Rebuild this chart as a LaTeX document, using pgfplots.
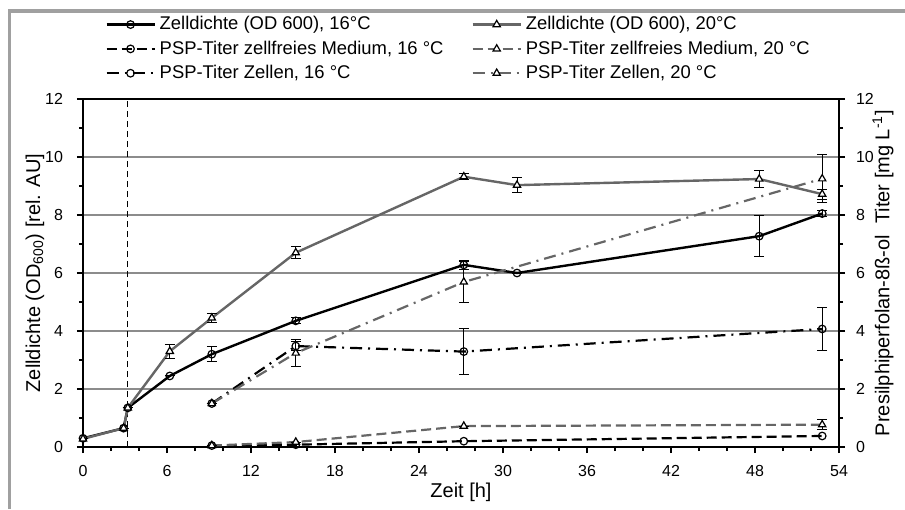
\documentclass[border=0pt]{standalone}
\usepackage{fontspec}
\setmainfont{Liberation Sans}
\usepackage{pgfplots}
\pgfplotsset{compat=1.18}

\definecolor{sergray}{HTML}{666666}
\definecolor{gridgray}{HTML}{8C8C8C}
\definecolor{framegray}{HTML}{A0A0A0}

\newcommand{\chartfont}{\fontsize{8}{9.6}\selectfont}
\newcommand{\legfont}{\fontsize{9.2}{11}\selectfont}

\pgfplotsset{
  base/.style={
    at={(41.5pt,31pt)}, anchor=south west,
    width=378pt, height=174pt, scale only axis,
    xmin=0, xmax=54, ymin=0, ymax=12,
    ytick={0,2,...,12}, minor y tick num=1,
    tick align=outside,
    major tick length=3pt, minor tick length=2pt,
    axis line style={black, line width=0.7pt},
    tick style={black, line width=0.6pt},
    /pgf/number format/assume math mode=true,
    tick label style={font=\chartfont},
    label style={font=\chartfont},
  },
  ebar/.style={error bars/.cd, y dir=both, y explicit,
    error bar style={black, line width=0.5pt, solid},
    error mark options={rotate=90, mark size=2.5pt, black, line width=0.5pt, solid}},
  circ/.style={mark=o, mark size=1.9pt, mark options={solid, draw=black, fill=white, line width=0.6pt}},
  tri/.style={mark=triangle*, mark size=2.1pt, mark options={solid, draw=black, fill=white, line width=0.6pt}},
  dashdot/.style={dash pattern=on 6pt off 3pt on 1pt off 3pt},
  longdash/.style={dash pattern=on 5pt off 2.5pt},
}

\begin{document}
\begin{tikzpicture}
\useasboundingbox (0,0) rectangle (452.5pt,254.5pt);
\draw[framegray, line width=1.8pt] (4.75pt,0) -- (4.75pt,249pt) -- (452.5pt,249pt);

\begin{axis}[base,
  xtick={0,6,...,54}, minor x tick num=2,
  tick pos=left,
  xticklabel style={yshift=-2.5pt},
  yticklabel style={xshift=-3.5pt},
  ymajorgrids, major grid style={gridgray, line width=0.7pt},
  xlabel={Zeit [h]},
  ylabel={Zelldichte (OD\textsubscript{600}) [rel. AU]},
  every axis x label/.style={at={(axis description cs:0.5,0)}, yshift=-22.5pt, anchor=center},
  every axis y label/.style={at={(axis description cs:0,0.5)}, xshift=-24pt, rotate=90, anchor=center},
  legend columns=2,
  legend style={at={(axis description cs:0.029,1.25)}, anchor=north west,
    draw=none, fill=none, inner sep=0pt, row sep=0pt,
    nodes={anchor=west, font=\legfont},
    /tikz/every even column/.append style={column sep=12pt}},
  legend image code/.code={\draw[mark repeat=2, mark phase=2]
    plot coordinates {(0pt,0pt)(12pt,0pt)(24pt,0pt)};},
]
\addplot[black, dashed, dash pattern=on 3pt off 2pt, line width=0.6pt, forget plot]
  coordinates {(3.2,0)(3.2,12)};

% Zelldichte 16 C
\addplot[black, line width=1.2pt, circ, ebar] coordinates {
  (0,0.3) +- (0,0) (2.9,0.65) +- (0,0) (3.2,1.35) +- (0,0) (6.2,2.45) +- (0,0)
  (9.2,3.2) +- (0,0.25) (15.2,4.35) +- (0,0.1) (27.2,6.28) +- (0,0.15)
  (31,6.0) +- (0,0) (48.3,7.27) +- (0,0.7) (52.8,8.05) +- (0,0.1)};
\addlegendentry{\legfont Zelldichte (OD 600), 16°C}

% Zelldichte 20 C
\addplot[sergray, line width=1.2pt, tri, ebar] coordinates {
  (0,0.28) +- (0,0) (2.9,0.65) +- (0,0) (3.2,1.35) +- (0,0) (6.2,3.3) +- (0,0.25)
  (9.2,4.45) +- (0,0.15) (15.2,6.7) +- (0,0.2) (27.2,9.32) +- (0,0.1)
  (31,9.03) +- (0,0.26) (48.3,9.24) +- (0,0.3) (52.8,8.72) +- (0,0.17)};
\addlegendentry{\legfont Zelldichte (OD 600), 20°C}

% PSP zellfreies Medium 16 C
\addplot[black, line width=1.1pt, longdash, circ] coordinates {
  (9.2,0.05) (15.2,0.08) (27.2,0.2) (52.8,0.38)};
\addlegendentry{\legfont PSP-Titer zellfreies Medium, 16 °C}

% PSP zellfreies Medium 20 C
\addplot[sergray, line width=1.1pt, longdash, tri, ebar] coordinates {
  (9.2,0.05) +- (0,0) (15.2,0.17) +- (0,0) (27.2,0.72) +- (0,0) (52.8,0.77) +- (0,0.17)};
\addlegendentry{\legfont PSP-Titer zellfreies Medium, 20 °C}

% PSP Zellen 16 C
\addplot[black, line width=1.1pt, dashdot, circ, ebar] coordinates {
  (9.2,1.5) +- (0,0) (15.2,3.48) +- (0,0.15) (27.2,3.29) +- (0,0.8) (52.8,4.07) +- (0,0.73)};
\addlegendentry{\legfont PSP-Titer Zellen, 16 °C}

% PSP Zellen 20 C
\addplot[sergray, line width=1.1pt, dashdot, tri, ebar] coordinates {
  (9.2,1.5) +- (0,0) (15.2,3.24) +- (0,0.45) (27.2,5.69) +- (0,0.7) (52.8,9.25) +- (0,0.83)};
\addlegendentry{\legfont PSP-Titer Zellen, 20 °C}
\end{axis}

\begin{axis}[base,
  axis x line=none, axis y line*=right,
  yticklabel style={xshift=2pt},
  ylabel={Presilphiperfolan-8ß-ol\ \ Titer [mg L\textsuperscript{-1}]},
  every axis y label/.style={at={(axis description cs:1,0.5)}, xshift=22pt, rotate=90, anchor=center},
]
\end{axis}
\end{tikzpicture}
\end{document}
